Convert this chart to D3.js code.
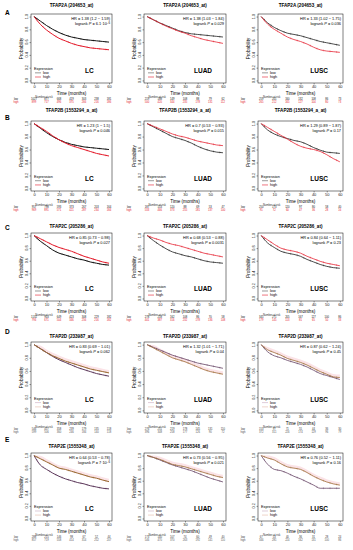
<!DOCTYPE html>
<html>
<head>
<meta charset="utf-8">
<script src="https://cdnjs.cloudflare.com/ajax/libs/d3/7.8.5/d3.min.js"></script>
<style>
  body { margin: 0; background: #fff; }
  svg { display: block; font-family: "Liberation Sans", Arial, sans-serif; }
</style>
</head>
<body>
<div id="chart"></div>
<script>
// ---- data ----
const months = [0, 5, 10, 15, 20, 25, 30, 35, 40, 45, 50, 55, 60];
const riskMonths = [0, 10, 20, 30, 40, 50, 60];
const xTicks = [0, 10, 20, 30, 40, 50, 60];
const yTicks = [0, 0.2, 0.4, 0.6, 0.8, 1.0];
const rowLetters = ["A", "B", "C", "D", "E"];
const genes = ["TFAP2A (204653_at)", "TFAP2B (1553294_a_at)", "TFAP2C (205286_at)",
               "TFAP2D (233987_at)", "TFAP2E (1555348_at)"];
const cohorts = ["LC", "LUAD", "LUSC"];

const hrText = [
  ["HR = 1.38 (1.2 \u2212 1.59)", "HR = 1.38 (1.03 \u2212 1.84)", "HR = 1.33 (1.02 \u2212 1.75)"],
  ["HR = 1.23 (1 \u2212 1.5)", "HR = 0.7 (0.53 \u2212 0.93)", "HR = 1.29 (0.89 \u2212 1.87)"],
  ["HR = 0.85 (0.73 \u2212 0.98)", "HR = 0.68 (0.53 \u2212 0.88)", "HR = 0.84 (0.64 \u2212 1.11)"],
  ["HR = 0.83 (0.69 \u2212 1.01)", "HR = 1.32 (1.01 \u2212 1.71)", "HR = 0.87 (0.62 \u2212 1.24)"],
  ["HR = 0.64 (0.53 \u2212 0.78)", "HR = 0.73 (0.56 \u2212 0.95)", "HR = 0.76 (0.52 \u2212 1.11)"]
];
// [mantissa, exponent] when shown as a power of ten
const pText = [
  [["6.1", "\u22126"], "0.029", "0.036"],
  ["0.046", "0.015", "0.17"],
  ["0.027", "0.0031", "0.23"],
  ["0.062", "0.04", "0.45"],
  [["7", "\u22126"], "0.021", "0.16"]
];

// survival probability at each entry of months, per cohort (LC, LUAD, LUSC)
const lowA = [
  [1, .93, .86, .80, .75, .71, .68, .66, .64, .63, .62, .61, .60],
  [1, .95, .90, .86, .82, .78, .75, .73, .72, .71, .70, .69, .68],
  [1, .90, .83, .78, .74, .72, .70, .67, .64, .61, .59, .57, .55]
];
const highA = [
  [1, .88, .79, .72, .66, .62, .58, .55, .53, .51, .50, .49, .48],
  [1, .95, .90, .85, .81, .77, .74, .70, .67, .64, .62, .60, .58],
  [1, .88, .80, .74, .68, .64, .61, .57, .52, .48, .46, .45, .44]
];
const lowB = [
  [1, .93, .86, .80, .75, .71, .68, .66, .64, .63, .62, .61, .60],
  [1, .95, .90, .85, .80, .77, .74, .70, .65, .61, .58, .56, .55],
  [1, .90, .84, .80, .77, .74, .72, .68, .63, .59, .56, .55, .54]
];
const highB = [
  [1, .94, .88, .81, .75, .70, .66, .63, .60, .57, .54, .52, .50],
  [1, .96, .92, .88, .84, .81, .79, .76, .73, .71, .69, .67, .66],
  [1, .94, .88, .82, .76, .70, .65, .62, .60, .57, .52, .46, .41]
];
const lowC = [
  [1, .91, .84, .77, .72, .69, .66, .63, .61, .58, .56, .54, .53],
  [1, .92, .85, .79, .74, .71, .68, .66, .63, .60, .58, .57, .56],
  [1, .88, .81, .75, .72, .70, .67, .62, .58, .54, .51, .49, .48]
];
const highC = [
  [1, .95, .90, .85, .81, .78, .75, .71, .67, .64, .61, .58, .56],
  [1, .96, .93, .89, .86, .84, .81, .78, .75, .72, .70, .68, .66],
  [1, .93, .86, .80, .77, .75, .72, .67, .63, .59, .56, .54, .52]
];
const lowD = [
  [1, .94, .88, .82, .77, .73, .69, .65, .62, .59, .56, .54, .52],
  [1, .96, .92, .88, .84, .81, .78, .75, .72, .70, .68, .66, .64],
  [1, .89, .83, .80, .76, .73, .70, .66, .61, .56, .53, .50, .47]
];
const highD = [
  [1, .94, .88, .83, .79, .75, .72, .69, .66, .63, .61, .59, .57],
  [1, .95, .90, .85, .80, .77, .74, .70, .66, .62, .59, .57, .55],
  [1, .92, .88, .84, .79, .76, .73, .69, .64, .59, .55, .51, .50]
];
const lowE = [
  [1, .85, .78, .72, .67, .63, .60, .57, .55, .52, .50, .48, .47],
  [1, .97, .93, .89, .85, .82, .79, .76, .72, .68, .64, .61, .58],
  [1, .86, .78, .76, .72, .67, .63, .58, .53, .48, .48, .48, .48]
];
const highE = [
  [1, .95, .90, .85, .80, .78, .75, .72, .69, .66, .64, .61, .585],
  [1, .97, .94, .90, .86, .84, .82, .79, .76, .73, .70, .67, .65],
  [1, .96, .93, .87, .82, .80, .78, .73, .67, .62, .58, .55, .53]
];

// number at risk at riskMonths
const riskLowA = [[1027, 877, 668, 419, 303, 238, 181], [219, 188, 149, 108, 88, 79, 62], [259, 201, 160, 132, 108, 86, 73]];
const riskHighA = [[899, 717, 496, 375, 266, 216, 186], [500, 420, 344, 235, 178, 131, 112], [265, 212, 165, 127, 104, 80, 73]];
const riskLowB = [[957, 798, 593, 373, 267, 203, 164], [187, 153, 120, 88, 69, 53, 47], [250, 173, 120, 97, 80, 58, 40]];
const riskHighB = [[969, 891, 571, 421, 287, 234, 184], [533, 466, 373, 255, 181, 137, 100], [91, 72, 60, 47, 36, 28, 16]];
const riskLowC = [[1132, 903, 649, 423, 308, 229, 182], [278, 218, 162, 108, 86, 70, 58], [345, 271, 205, 167, 127, 100, 86]];
const riskHighC = [[794, 671, 504, 346, 256, 216, 182], [441, 387, 316, 232, 178, 136, 108], [179, 145, 113, 81, 65, 50, 33]];
const riskLowD = [[546, 457, 358, 239, 179, 135, 118], [276, 251, 219, 178, 145, 131, 110], [153, 97, 71, 55, 44, 36, 30]];
const riskHighD = [[599, 506, 360, 246, 184, 140, 118], [396, 348, 258, 177, 126, 90, 72], [372, 311, 226, 174, 129, 96, 79]];
const riskLowE = [[288, 215, 146, 98, 67, 52, 44], [173, 140, 107, 74, 60, 49, 40], [67, 53, 40, 36, 31, 28, 24]];
const riskHighE = [[857, 719, 558, 414, 314, 252, 207], [546, 470, 370, 263, 192, 141, 110], [346, 281, 224, 162, 131, 100, 86]];

const lowRows = [lowA, lowB, lowC, lowD, lowE];
const highRows = [highA, highB, highC, highD, highE];
const riskLowRows = [riskLowA, riskLowB, riskLowC, riskLowD, riskLowE];
const riskHighRows = [riskHighA, riskHighB, riskHighC, riskHighD, riskHighE];

// ---- layout ----
const W = 353, H = 550;
const colL = [31, 144, 258], colR = [112, 226, 343];
const rowT = [14, 121, 233, 342, 453], rowB = [83, 191, 301, 413, 521];
const titleY = [7, 112, 228, 338, 448];
const letterY = [15, 120, 230, 334, 442];

const colorsAC = {low: "#111111", high: "#e41a2a", legLow: "#555", legHigh: "#e41a2a"};
const colorsDE = {low: "#5e3a5c", high: "#9a6c33", legLow: "#c9a9c0", legHigh: "#e6b8a8"};

const svg = d3.select("#chart").append("svg")
    .attr("width", W)
    .attr("height", H);

rowLetters.forEach((l, r) => {
    svg.append("text")
        .attr("x", 5)
        .attr("y", letterY[r])
        .attr("font-size", 6.5)
        .attr("font-weight", "bold")
        .text(l);
});

for (let r = 0; r < 5; r++) {
    for (let c = 0; c < 3; c++) {
        drawPanel(r, c);
    }
}

function drawPanel(r, c) {
    let L = colL[c], R = colR[c], T = rowT[r], B = rowB[r];
    let col = r < 3 ? colorsAC : colorsDE;
    let g = svg.append("g");

    let x = d3.scaleLinear().domain([-2.4, 62.4]).range([L, R]);
    let y = d3.scaleLinear().domain([-0.04, 1.04]).range([B, T]);

    g.append("text")
        .attr("x", (L + R) / 2)
        .attr("y", titleY[r])
        .attr("text-anchor", "middle")
        .attr("font-size", 4.6)
        .attr("font-weight", "bold")
        .text(genes[r]);

    // axes
    let xa = g.append("g")
        .attr("transform", "translate(0," + B + ")")
        .call(d3.axisBottom(x).tickValues(xTicks).tickSize(1.5).tickPadding(0.8));
    xa.select(".domain").remove();
    xa.selectAll("line").attr("stroke-width", 0.4);
    xa.selectAll("text").attr("font-size", 4).attr("fill", "#222");

    let ya = g.append("g")
        .attr("transform", "translate(" + L + ",0)")
        .call(d3.axisLeft(y).tickValues(yTicks).tickSize(1.5).tickFormat(""));
    ya.select(".domain").remove();
    ya.selectAll("line").attr("stroke-width", 0.4);

    yTicks.forEach(v => {
        g.append("text")
            .attr("x", L - 3)
            .attr("y", y(v))
            .attr("transform", `rotate(-90,${L - 3},${y(v)})`)
            .attr("text-anchor", "middle")
            .attr("font-size", 3.8)
            .attr("fill", "#222")
            .text(d3.format(".1f")(v));
    });

    g.append("rect")
        .attr("x", L).attr("y", T)
        .attr("width", R - L).attr("height", B - T)
        .attr("fill", "none")
        .attr("stroke", "#000")
        .attr("stroke-width", 0.5);

    g.append("text")
        .attr("x", (L + R) / 2)
        .attr("y", B + 11.5)
        .attr("text-anchor", "middle")
        .attr("font-size", 4.6)
        .text("Time (months)");

    let ly = (T + B) / 2;
    g.append("text")
        .attr("x", L - 8.5)
        .attr("y", ly)
        .attr("transform", `rotate(-90,${L - 8.5},${ly})`)
        .attr("text-anchor", "middle")
        .attr("font-size", 4.6)
        .text("Probability");

    // curves
    let low = months.map((m, i) => [m, lowRows[r][c][i]]);
    let high = months.map((m, i) => [m, highRows[r][c][i]]);
    let line = d3.line().x(d => x(d[0])).y(d => y(d[1])).curve(d3.curveMonotoneX);
    let sw = c == 0 ? 1.0 : 0.75;

    if (r >= 3) {
        // light band round the high curve
        let band = d3.area()
            .x(d => x(d[0]))
            .y0(d => y(Math.max(d[1] - 0.01, 0)))
            .y1(d => y(Math.min(d[1] + 0.045, 1)))
            .curve(d3.curveMonotoneX);
        g.append("path").attr("d", band(high)).attr("fill", "#fbe3e7");
    }

    [[low, col.low], [high, col.high]].forEach(([pts, cl]) => {
        g.append("path")
            .attr("d", line(pts))
            .attr("fill", "none")
            .attr("stroke", cl)
            .attr("stroke-width", sw);
        g.selectAll(null)
            .data(pts.slice(1))
            .enter()
            .append("line")
            .attr("x1", d => x(d[0] - 2.5)).attr("x2", d => x(d[0] - 2.5))
            .attr("y1", (d, i) => y((pts[i][1] + d[1]) / 2) - 0.9)
            .attr("y2", (d, i) => y((pts[i][1] + d[1]) / 2) + 0.9)
            .attr("stroke", cl)
            .attr("stroke-width", 0.35);
    });

    // HR + p
    g.append("text")
        .attr("x", R - 2)
        .attr("y", T + 6)
        .attr("text-anchor", "end")
        .attr("font-size", 3.9)
        .text(hrText[r][c]);
    let pt = g.append("text")
        .attr("x", R - 2)
        .attr("y", T + 11)
        .attr("text-anchor", "end")
        .attr("font-size", 3.9);
    pt.append("tspan").text("logrank ");
    pt.append("tspan").attr("font-style", "italic").text("P");
    let p = pText[r][c];
    if (Array.isArray(p)) {
        pt.append("tspan").text(" = " + p[0] + "\u00b710");
        pt.append("tspan").attr("dy", -1.5).attr("font-size", 2.8).text(p[1]);
    } else {
        pt.append("tspan").text(" = " + p);
    }

    // legend
    g.append("text")
        .attr("x", L + 3)
        .attr("y", y(0.165))
        .attr("font-size", 3.8)
        .text("Expression");
    [["low", col.legLow, 0.10], ["high", col.legHigh, 0.035]].forEach(([t, cl, v]) => {
        g.append("line")
            .attr("x1", L + 4).attr("x2", L + 10)
            .attr("y1", y(v) - 1.2).attr("y2", y(v) - 1.2)
            .attr("stroke", cl)
            .attr("stroke-width", 0.6);
        g.append("text")
            .attr("x", L + 12)
            .attr("y", y(v))
            .attr("font-size", 3.8)
            .text(t);
    });

    g.append("text")
        .attr("x", L + 0.72 * (R - L))
        .attr("y", y(0.12))
        .attr("text-anchor", "middle")
        .attr("font-size", 6.5)
        .attr("font-weight", "bold")
        .text(cohorts[c]);

    // number at risk
    g.append("text")
        .attr("x", x(8))
        .attr("y", B + 14.6)
        .attr("text-anchor", "middle")
        .attr("font-size", 2.7)
        .attr("fill", "#333")
        .text("Number at risk");
    [["low", riskLowRows[r][c], r < 3 ? "#111" : "#333", 17.4],
     ["high", riskHighRows[r][c], r < 3 ? "#e41a2a" : "#555", 20]].forEach(([t, vals, cl, dy]) => {
        g.append("text")
            .attr("x", L - 15)
            .attr("y", B + dy)
            .attr("text-anchor", "middle")
            .attr("font-size", 2.7)
            .attr("fill", cl)
            .text(t);
        g.selectAll(null)
            .data(vals)
            .enter()
            .append("text")
            .attr("x", (d, i) => x(riskMonths[i]))
            .attr("y", B + dy)
            .attr("text-anchor", "middle")
            .attr("font-size", 2.7)
            .attr("fill", cl)
            .text(d => d);
    });
}
</script>
</body>
</html>
